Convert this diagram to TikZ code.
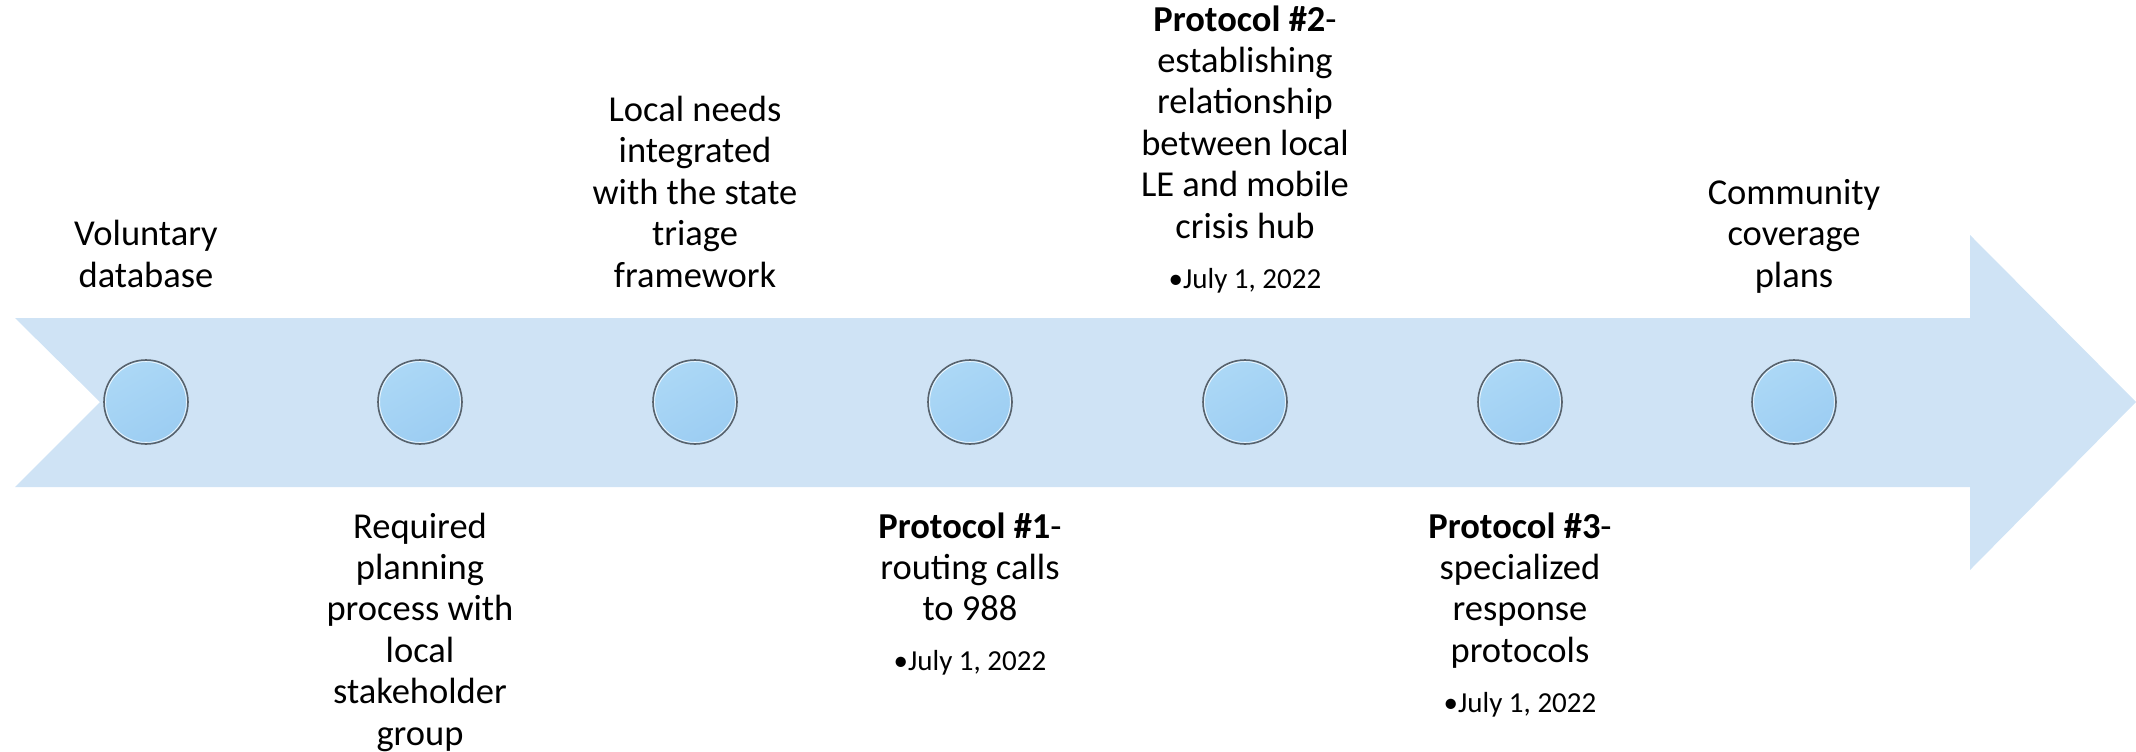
\documentclass[tikz,border=0pt]{standalone}
\usepackage{fontspec}
\setmainfont{Carlito}
\definecolor{arrowblue}{RGB}{207,227,245}
\definecolor{circA}{RGB}{172,216,246}
\definecolor{circB}{RGB}{156,205,242}
\definecolor{circline}{RGB}{88,98,108}
\newcommand{\mainsize}{\fontsize{36.5pt}{41.4pt}\selectfont}
\newcommand{\datesize}{\fontsize{29pt}{34pt}\selectfont}
\tikzset{
  dot/.style={circle, minimum size=84pt, inner sep=0pt, draw=circline, line width=1.6pt,
    top color=circA, bottom color=circB, shading angle=30},
  toplabel/.style={anchor=base, inner sep=0pt, font=\mainsize},
  datelabel/.style={anchor=base, inner sep=0pt, font=\datesize},
}
\newcommand{\blockb}[1]{\parbox[b]{400pt}{\centering\mainsize #1}}
\newcommand{\blockt}[1]{\parbox[t]{400pt}{\centering\mainsize #1}}
\begin{document}
\begin{tikzpicture}[x=1pt,y=-1pt]
\useasboundingbox (0,0) rectangle (2136,752);
% arrow
\fill[arrowblue] (15,318) -- (1970,318) -- (1970,235) -- (2136,402) -- (1970,570)
  -- (1970,487) -- (15,487) -- (100,402) -- cycle;
% circles
\foreach \i/\x in {1/146,2/420,3/695,4/970,5/1245,6/1520,7/1794}{
  \node[dot] (c\i) at (\x,402) {};
  \draw[white, line width=0.8pt, opacity=0.8] (c\i.center) circle[radius=40.4];
}
% labels
\node[toplabel] (t1) at (146,287) {\blockb{Voluntary\\database}};
\node[toplabel] (t2) at (420,538) {\blockt{Required\\planning\\process with\\local\\stakeholder\\group}};
\node[toplabel] (t3) at (695,287) {\blockb{Local needs\\integrated\\with the state\\triage\\framework}};
\node[toplabel] (t4) at (970,538) {\blockt{\textbf{Protocol \#1}-\\routing calls\\to 988}};
\node[datelabel] (d4) at (970,670) {•July 1, 2022};
\node[toplabel] (t5) at (1245,238) {\blockb{\textbf{Protocol \#2}-\\establishing\\relationship\\between local\\LE and mobile\\crisis hub}};
\node[datelabel] (d5) at (1245,288) {•July 1, 2022};
\node[toplabel] (t6) at (1520,538) {\blockt{\textbf{Protocol \#3}-\\specialized\\response\\protocols}};
\node[datelabel] (d6) at (1520,712) {•July 1, 2022};
\node[toplabel] (t7) at (1794,287) {\blockb{Community\\coverage\\plans}};
\end{tikzpicture}
\end{document}
